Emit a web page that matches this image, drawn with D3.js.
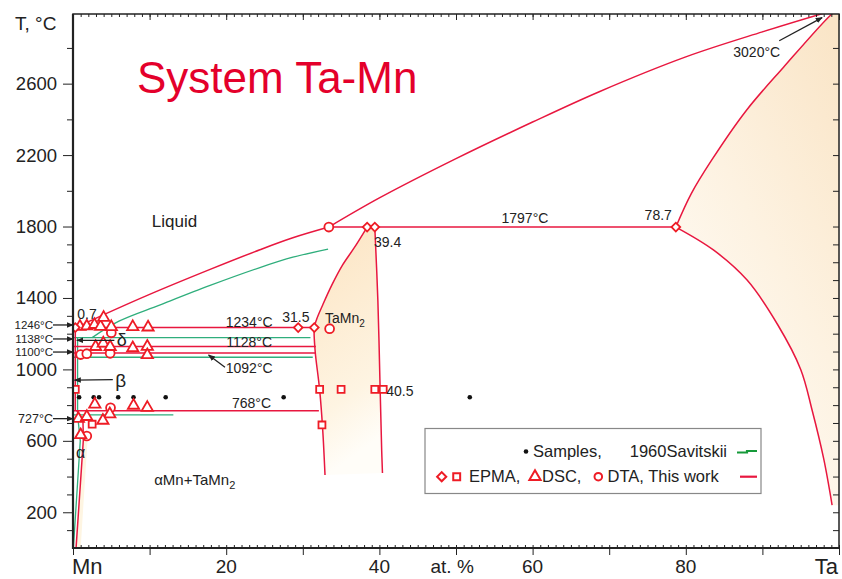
<!DOCTYPE html>
<html>
<head>
<meta charset="utf-8">
<script src="https://cdn.jsdelivr.net/npm/d3@7"></script>
<style>
  body { margin: 0; background: #fff; }
  svg { display: block; }
  text { font-family: "Liberation Sans", Arial, Helvetica, sans-serif; fill: #222; }
</style>
</head>
<body>
<svg id="chart" width="842" height="579"></svg>
<script>
// ---- Ta–Mn phase diagram data (x: at.% Ta, T: °C) ----
const yLabelTicks = [200, 600, 1000, 1400, 1800, 2200, 2600];
const yMinorTicks = [100, 300, 400, 500, 700, 800, 900, 1100, 1200, 1300, 1500, 1600, 1700, 2000, 2400, 2800];
const xMajorTicks = [0, 10, 20, 30, 40, 50, 60, 70, 80, 90, 100];
const xMinorTicks = d3.range(0, 101, 1);
const xTickLabels = [[20, "20"], [40, "40"], [60, "60"], [80, "80"]];

// liquidus, solidus and solvus curves (this work)
const liquidusMnSide = [[0, 1246], [0.7, 1234], [1.6, 1258], [3.95, 1305], [10, 1420], [17.9, 1560], [24.4, 1670], [28.7, 1737], [33.4, 1797]];
const liquidusTaSide = [[33.4, 1797], [40, 1960], [50, 2180], [60, 2385], [68.7, 2555], [80, 2750], [90, 2890], [100, 3020]];
const solidusTa = [[78.7, 1797], [80.7, 1983], [83.35, 2170], [87.9, 2450], [92.76, 2692], [98.86, 2982], [100, 3020]];
const solvusTa = [[78.7, 1797], [83.6, 1669], [88, 1500], [92, 1250], [95, 1000], [96.5, 770], [98, 500], [99.1, 240]];
const tamn2Left = [[38.4, 1797], [36.7, 1680], [35.2, 1585], [33.8, 1473], [32.6, 1361], [31.8, 1280], [31.5, 1234], [31.6, 1109], [32.2, 885], [32.6, 661], [32.9, 409]];
const tamn2Right = [[39.4, 1797], [39.8, 1386], [40.1, 882], [40.3, 545], [40.4, 420]];
const mnSolvus = [[0.3, 1234], [0.3, 768]];
const alphaSolvus = [[0.5, 768], [1.3, 715], [1.35, 605], [0.4, 0]];
const alphaWedge = [[0.4, 0], [1.35, 605], [1.9, 605], [1.0, 0]];

// isotherms: [T, from, to]
const redIsotherms = [[1234, 0, 31.5], [1128, 0, 31.7], [1092, 0, 31.7], [768, 0, 32.1], [1797, 33.4, 78.7]];

// Savitskii (1960)
const savLiquidus = [[2.5, 1178], [6, 1270], [11.3, 1360], [17.9, 1470], [24.4, 1570], [28.7, 1628], [33.3, 1674]];
const savIsotherms = [[1178, 0, 31.0], [1068, 0, 31.3], [745, 0, 13.1]];
const savMnSolvus = [[0.6, 1178], [0.6, 745], [0.95, 600], [0.05, 0]];
const sampleX = [0.8, 2.7, 3.4, 5.9, 7.9, 12.1, 27.5, 51.8];
const sampleT = 844;

// experimental points (this work)
const dscPoints = [[0.9, 1240], [1.8, 1242], [2.8, 1250], [3.6, 1240], [4.0, 1290], [5.0, 1238], [7.8, 1238], [9.8, 1236],
  [2.95, 1127], [3.95, 1146], [4.85, 1127], [7.8, 1120], [9.7, 1128], [9.7, 1081],
  [2.85, 804], [4.8, 750], [7.9, 798], [9.7, 786], [3.9, 714], [0.7, 724], [1.8, 735], [1.0, 633]];
const dtaPoints = [[5.0, 1205], [1.0, 1083], [1.8, 1088], [4.85, 1090], [4.9, 785], [1.8, 627], [33.5, 1228], [33.4, 1797]];
const epmaSquares = [[0.3, 888], [2.5, 693], [32.2, 888], [35.0, 888], [39.4, 888], [40.5, 888], [32.5, 689]];
const epmaDiamonds = [[0.3, 1234], [29.4, 1234], [31.5, 1234], [38.4, 1797], [39.4, 1797], [78.7, 1797]];

// invariant temperatures marked on the Mn axis: [T, text, vertical nudge of the callout]
const mnAxisTemps = [[1246, "1246°C", -0.5], [1138, "1138°C", -5.8], [1100, "1100°C", 0.5]];
const mnAxisAlpha = [727, "727°C"];

// ---- drawing ----
const RED = "#e8173f", MRED = "#ee1c25", GREEN = "#2fae7c", LEGGREEN = "#169a3a";
const svg = d3.select("#chart");
const x = d3.scaleLinear().domain([0, 100]).range([73, 839]);
const y = d3.scaleLinear().domain([0, 2990]).range([548, 14]);

const defs = svg.append("defs");
defs.append("clipPath").attr("id", "plotClip").append("rect")
  .attr("x", 73).attr("y", 14).attr("width", 766).attr("height", 534);
const gTaMn2 = defs.append("linearGradient").attr("id", "fillTaMn2").attr("x1", 0).attr("y1", 0).attr("x2", 0.2).attr("y2", 1);
gTaMn2.append("stop").attr("offset", 0).attr("stop-color", "#fce4c2");
gTaMn2.append("stop").attr("offset", 0.75).attr("stop-color", "#fef4e2");
gTaMn2.append("stop").attr("offset", 1).attr("stop-color", "#fffdf8");
const gTa = defs.append("linearGradient").attr("id", "fillTa").attr("x1", 0.9).attr("y1", 0).attr("x2", 0.3).attr("y2", 1);
gTa.append("stop").attr("offset", 0).attr("stop-color", "#fae5c7");
gTa.append("stop").attr("offset", 0.5).attr("stop-color", "#fdf2e1");
gTa.append("stop").attr("offset", 1).attr("stop-color", "#fffdf9");
defs.append("marker").attr("id", "arrowHead").attr("viewBox", "0 -5 10 10")
  .attr("refX", 9).attr("refY", 0).attr("markerWidth", 7).attr("markerHeight", 7)
  .attr("markerUnits", "userSpaceOnUse").attr("orient", "auto")
  .append("path").attr("d", "M0,-4L10,0L0,4Z").attr("fill", "#222");

const plot = svg.append("g").attr("clip-path", "url(#plotClip)");
const smooth = d3.line().x(d => x(d[0])).y(d => y(d[1])).curve(d3.curveCatmullRom.alpha(0.5));
const straight = d3.line().x(d => x(d[0])).y(d => y(d[1]));

// shaded single-phase fields
plot.append("path")
  .attr("d", smooth(tamn2Left) + "L" + smooth(tamn2Right.slice().reverse()).slice(1) + "Z")
  .attr("fill", "url(#fillTaMn2)");
plot.append("path")
  .attr("d", smooth(solidusTa) + "L" + x(100) + "," + y(240) + "L" + smooth(solvusTa.slice().reverse()).slice(1) + "Z")
  .attr("fill", "url(#fillTa)");
plot.append("path").attr("d", straight(alphaWedge) + "Z").attr("fill", "#fef5e2");

// Savitskii lines
const savG = plot.append("g").attr("fill", "none").attr("stroke", GREEN).attr("stroke-width", 1.3);
savG.append("path").attr("d", smooth(savLiquidus));
savG.append("path").attr("d", straight(savMnSolvus));
savIsotherms.forEach(([T, a, b]) => savG.append("path").attr("d", straight([[a, T], [b, T]])));

// this work lines
const redG = plot.append("g").attr("fill", "none").attr("stroke", RED).attr("stroke-width", 1.5);
[liquidusMnSide, liquidusTaSide, solidusTa, solvusTa, tamn2Left, tamn2Right].forEach(c => redG.append("path").attr("d", smooth(c)));
redG.append("path").attr("d", straight(mnSolvus));
redG.append("path").attr("d", straight(alphaSolvus));
redIsotherms.forEach(([T, a, b]) => redG.append("path").attr("d", straight([[a, T], [b, T]])));

// samples
plot.append("g").selectAll("circle").data(sampleX).enter().append("circle")
  .attr("cx", d => x(d)).attr("cy", y(sampleT)).attr("r", 2.3).attr("fill", "#111");

// experimental markers
function markers(data, type, size, rot) {
  plot.append("g").selectAll("path").data(data).enter().append("path")
    .attr("d", d3.symbol().type(type).size(size))
    .attr("transform", d => `translate(${x(d[0])},${y(d[1])}) rotate(${rot})`)
    .attr("fill", "#fff").attr("stroke", MRED).attr("stroke-width", 1.8);
}
markers(epmaSquares, d3.symbolSquare, 48, 0);
markers(dtaPoints, d3.symbolCircle, 62, 0);
markers(dscPoints, d3.symbolTriangle, 55, 0);
markers(epmaDiamonds, d3.symbolSquare, 38, 45);

// ---- axes ----
function styleAxis(g) {
  g.select(".domain").remove();
  g.selectAll(".tick line").attr("stroke", "#222").attr("stroke-width", 1);
}
svg.append("g").attr("transform", "translate(73,0)")
  .call(d3.axisLeft(y).tickValues(yMinorTicks).tickSize(6).tickFormat("")).call(styleAxis);
svg.append("g").attr("transform", "translate(73,0)")
  .call(d3.axisLeft(y).tickValues(yLabelTicks).tickSize(10).tickPadding(6).tickFormat(d3.format("d")))
  .call(styleAxis)
  .selectAll("text").style("font-size", "18.5px").attr("fill", "#222");
svg.append("g").attr("transform", "translate(839,0)")
  .call(d3.axisLeft(y).tickValues(yLabelTicks.concat(yMinorTicks)).tickSize(6).tickFormat("")).call(styleAxis);
svg.append("g").attr("transform", "translate(0,14)")
  .call(d3.axisBottom(x).tickValues(xMinorTicks).tickSize(3).tickFormat("")).call(styleAxis);
svg.append("g").attr("transform", "translate(0,14)")
  .call(d3.axisBottom(x).tickValues(xMajorTicks).tickSize(6).tickFormat("")).call(styleAxis);
svg.append("g").attr("transform", "translate(0,548)")
  .call(d3.axisTop(x).tickValues(xMinorTicks).tickSize(3).tickFormat("")).call(styleAxis);
svg.append("g").attr("transform", "translate(0,548)")
  .call(d3.axisBottom(x).tickValues(xMajorTicks).tickSize(7).tickFormat("")).call(styleAxis);

// frame
svg.append("rect").attr("x", 73).attr("y", 14).attr("width", 766).attr("height", 534)
  .attr("fill", "none").attr("stroke", "#222").attr("stroke-width", 1.5);
svg.append("path").attr("d", `M73,14V548H839`).attr("fill", "none").attr("stroke", "#222").attr("stroke-width", 2.2);

// bottom labels
const bl = svg.append("g");
xTickLabels.forEach(([v, t]) => bl.append("text").attr("x", x(v)).attr("y", 573).attr("text-anchor", "middle").style("font-size", "19px").text(t));
bl.append("text").attr("x", 72).attr("y", 574).style("font-size", "22px").text("Mn");
bl.append("text").attr("x", 838).attr("y", 574).attr("text-anchor", "end").style("font-size", "22px").text("Ta");
bl.append("text").attr("x", x(49.5)).attr("y", 573).attr("text-anchor", "middle").style("font-size", "19px").text("at. %");
svg.append("text").attr("x", 15).attr("y", 30).style("font-size", "19px").text("T, °C");

// title
svg.append("text").attr("x", 137).attr("y", 93).style("font-size", "44px").style("fill", "#e4002b").text("System Ta-Mn");

// annotations
function note(c, T, txt, size, anchor) {
  return svg.append("text").attr("x", x(c)).attr("y", y(T)).attr("dy", "0.35em")
    .attr("text-anchor", anchor || "start").style("font-size", size + "px").text(txt);
}
note(13.25, 1831, "Liquid", 17, "middle");
note(59.0, 1848, "1797°C", 14, "middle");
note(76.4, 1865, "78.7", 14, "middle");
note(39.3, 1715, "39.4", 14);
note(29.1, 1295, "31.5", 14, "middle");
const tm = note(32.9, 1286, "TaMn", 14);
tm.append("tspan").attr("dy", "4").style("font-size", "10px").text("2");
note(23.0, 1267, "1234°C", 14, "middle");
note(23.0, 1155, "1128°C", 14, "middle");
note(23.0, 1006, "1092°C", 14, "middle");
note(23.3, 810, "768°C", 14, "middle");
note(40.9, 881, "40.5", 14);
note(0.56, 1310, "0.7", 14);
note(5.7, 1165, "δ", 18);
note(5.5, 941, "β", 19);
note(0.4, 537, "α", 16);
const am = note(10.6, 381, "αMn+TaMn", 15);
am.append("tspan").attr("dy", "4").style("font-size", "11px").text("2");
note(86.2, 2777, "3020°C", 14);

// arrows
function arrow(x1, y1, x2, y2) {
  svg.append("line").attr("x1", x1).attr("y1", y1).attr("x2", x2).attr("y2", y2)
    .attr("stroke", "#222").attr("stroke-width", 1.3).attr("marker-end", "url(#arrowHead)");
}
function axisCallout(T, t, nudge, size) {
  const yy = y(T) + nudge;
  svg.append("text").attr("x", 53).attr("y", yy).attr("dy", "0.35em").attr("text-anchor", "end")
    .style("font-size", size + "px").text(t);
  arrow(53, yy, 73, yy);
}
mnAxisTemps.forEach(([T, t, nudge]) => axisCallout(T, t, nudge, 11.5));
axisCallout(mnAxisAlpha[0], mnAxisAlpha[1], 0.5, 12.5);
arrow(x(5.4), y(1163), x(0.5), y(1163));
arrow(x(5.2), y(943), x(0.2), y(940));
arrow(225, y(1012), x(17.7), y(1092) + 2);
arrow(x(92.2), y(2840), x(97.8), y(2970));

// legend
const lg = svg.append("g");
lg.append("rect").attr("x", 425).attr("y", 428.5).attr("width", 336).attr("height", 65)
  .attr("fill", "#fff").attr("stroke", "#888").attr("stroke-width", 1.2);
lg.append("circle").attr("cx", 526).attr("cy", 451.5).attr("r", 2.3).attr("fill", "#111");
lg.append("text").attr("x", 533).attr("y", 451.5).attr("dy", "0.35em").style("font-size", "16.5px").text("Samples,");
lg.append("text").attr("x", 727).attr("y", 451.5).attr("dy", "0.35em").attr("text-anchor", "end").style("font-size", "16.5px").text("1960Savitskii");
lg.append("path").attr("d", "M737,452.5H747V451H757").attr("fill", "none").attr("stroke", LEGGREEN).attr("stroke-width", 2.2);
const ly = 476.7;
function legSym(cx, type, size, rot) {
  lg.append("path").attr("d", d3.symbol().type(type).size(size)).attr("transform", `translate(${cx},${ly}) rotate(${rot})`)
    .attr("fill", "#fff").attr("stroke", MRED).attr("stroke-width", 2);
}
legSym(441.7, d3.symbolSquare, 42, 45);
legSym(456.7, d3.symbolSquare, 48, 0);
lg.append("text").attr("x", 469).attr("y", ly).attr("dy", "0.35em").style("font-size", "16.5px").text("EPMA,");
legSym(535, d3.symbolTriangle, 55, 0);
lg.append("text").attr("x", 542).attr("y", ly).attr("dy", "0.35em").style("font-size", "16.5px").text("DSC,");
legSym(598.3, d3.symbolCircle, 45, 0);
lg.append("text").attr("x", 607.5).attr("y", ly).attr("dy", "0.35em").style("font-size", "16.5px").text("DTA, This work");
lg.append("line").attr("x1", 740).attr("x2", 757).attr("y1", ly).attr("y2", ly).attr("stroke", RED).attr("stroke-width", 2.2);
</script>
</body>
</html>
